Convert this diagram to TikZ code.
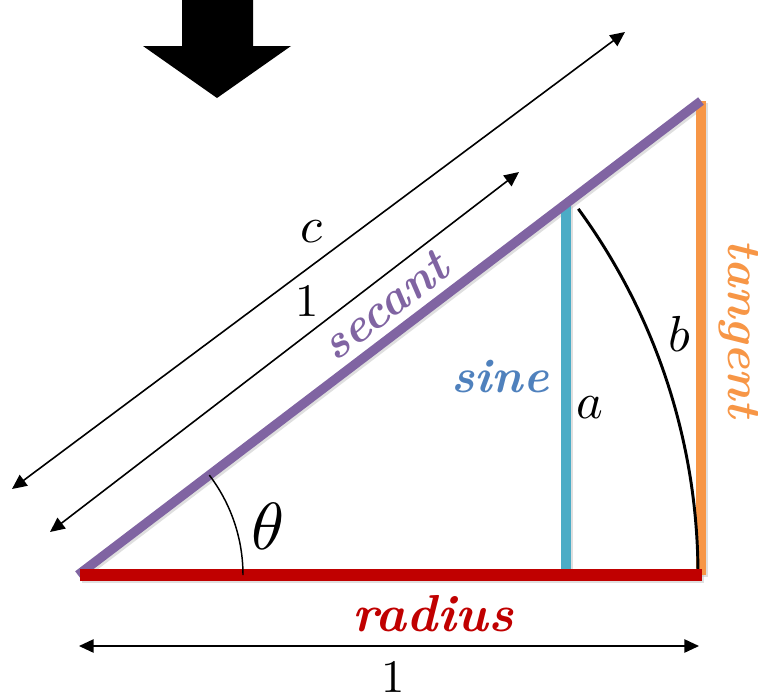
\documentclass[tikz,border=0pt]{standalone}
\usepackage{unicode-math}
\setmathfont{Latin Modern Math}
\usetikzlibrary{arrows.meta}
\definecolor{secantc}{HTML}{8064A2}
\definecolor{radiusc}{HTML}{C00000}
\definecolor{tangentc}{HTML}{F79646}
\definecolor{sinec}{HTML}{4BACC6}
\definecolor{sinetext}{HTML}{4F81BD}
\begin{document}
\begin{tikzpicture}[x=0.75pt,y=-0.75pt,
  dimarrow/.style={line width=1.2pt,{Triangle[length=11pt,width=10pt]}-{Triangle[length=11pt,width=10pt]}},
  shadowline/.style={line width=#1,black!25,opacity=0.5},
  word/.style={font=\fontsize{36}{40}\selectfont\bfseries\itshape,inner sep=0pt},
  mlabel/.style={font=\fontsize{38}{42}\selectfont,inner sep=0pt},
  nlabel/.style={font=\fontsize{35}{40}\selectfont,inner sep=0pt}]
\useasboundingbox (0,0) rectangle (758,694);
% big down arrow
\fill (182,0) -- (253,0) -- (253,46) -- (291,46) -- (217,98) -- (143,46) -- (182,46) -- cycle;
% triangle corners
\coordinate (O) at (78,575);
\coordinate (B) at (701,575);
\coordinate (A) at (701,101);
\coordinate (S) at (566,204);
\coordinate (Sb) at (566,575);
\coordinate (R0) at (80,575);
\coordinate (R1) at (702,575);
% shadows
\draw[shadowline=8pt] ([shift={(2,3)}]R0) -- ([shift={(2,3)}]R1);
\draw[shadowline=8pt] ([shift={(2,2)}]A) -- ([shift={(2,2)}]B);
\draw[shadowline=8pt] ([shift={(2,2)}]S) -- ([shift={(2,2)}]Sb);
\draw[shadowline=7pt] ([shift={(2,2)}]O) -- ([shift={(2,2)}]A);
% coloured sides
\draw[line width=8pt,tangentc] (A) -- (B);
\draw[line width=8pt,sinec] (S) -- (Sb);
\draw[line width=2.2pt] (O) ++(-36.2:620) arc[start angle=-36.2,end angle=0,radius=620];
\draw[line width=7pt,secantc] (O) -- (A);
\draw[line width=8.5pt,radiusc] (R0) -- (R1);
% theta arc
\draw[line width=1.1pt] (O) ++(0:165) arc[start angle=0,end angle=-37.27,radius=165];
% dimension arrows
\coordinate (c1) at (12,489);
\coordinate (c2) at (625,32);
\coordinate (u1) at (50,532);
\coordinate (u2) at (519,172);
\coordinate (d1) at (79,646);
\coordinate (d2) at (699,646);
\draw[dimarrow] (c1) -- (c2);
\draw[dimarrow] (u1) -- (u2);
\draw[dimarrow] (d1) -- (d2);
% labels
\node[mlabel] (lc) at (312,232) {$c$};
\node[nlabel] (l1) at (307,301) {$1$};
\node[nlabel] (lb1) at (393,677) {$1$};
\node[mlabel] (la) at (590,408) {$a$};
\node[mlabel] (lb) at (680,334) {$b$};
\node[font=\fontsize{50}{54}\selectfont,inner sep=0pt] (lt) at (268,526) {$\theta$};
\node[word,text=secantc,rotate=37.27] (lsec) at (385,306) {secant};
\node[word,text=sinetext] (lsin) at (500,377) {sine};
\node[word,text=radiusc,font=\fontsize{39}{44}\selectfont\bfseries\itshape] (lrad) at (433,614) {radius};
\node[word,text=tangentc,rotate=-90] (ltan) at (739,329) {tangent};
\end{tikzpicture}
\end{document}
